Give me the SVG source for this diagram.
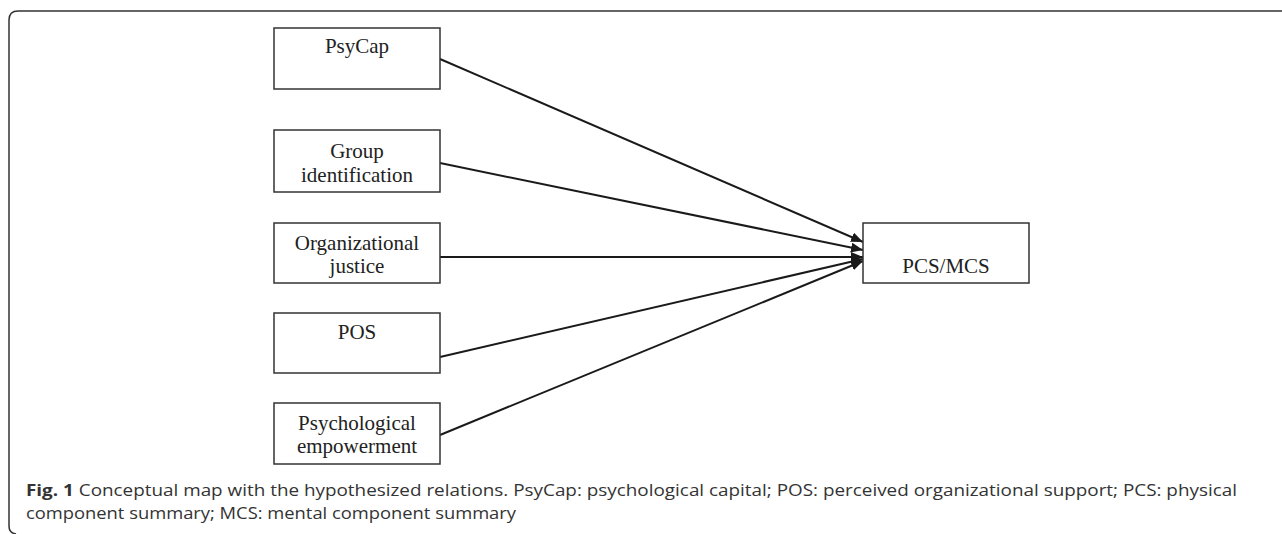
<svg xmlns="http://www.w3.org/2000/svg" width="1282" height="534" viewBox="0 0 1282 534">
<defs>
<marker id="arr" viewBox="0 0 12 10" refX="12" refY="5" markerWidth="12" markerHeight="10" markerUnits="userSpaceOnUse" orient="auto">
<path d="M0,0 L12,5 L0,10 Z" fill="#1a1a1a"/>
</marker>
<style>
.box{fill:#fff;stroke:#333;stroke-width:1.5}
.lbl{font-family:"Liberation Serif","Times New Roman",serif;font-size:21px;fill:#222;text-anchor:middle}
.conn{stroke:#1a1a1a;stroke-width:2;fill:none;marker-end:url(#arr)}
.cap{font-family:"Open Sans","Liberation Sans",sans-serif;font-size:16.5px;fill:#333}
</style>
</defs>
<rect width="1282" height="534" fill="#fff"/>
<path d="M1282 11 H18 Q9 11 9 20 V526 Q9 533 16 534" fill="none" stroke="#333" stroke-width="1.5"/>
<g id="connectors">
<line class="conn" x1="440" y1="59" x2="863" y2="242"/>
<line class="conn" x1="440" y1="163" x2="863" y2="250"/>
<line class="conn" x1="440" y1="257" x2="863" y2="257"/>
<line class="conn" x1="440" y1="357" x2="863" y2="259"/>
<line class="conn" x1="440" y1="435" x2="863" y2="261"/>
</g>
<g id="psycap">
<rect class="box" x="274" y="28" width="166" height="61"/>
<text class="lbl" x="357" y="53">PsyCap</text>
</g>
<g id="group-identification">
<rect class="box" x="274" y="130" width="166" height="62"/>
<text class="lbl" x="357" y="158">Group</text>
<text class="lbl" x="357" y="182">identification</text>
</g>
<g id="organizational-justice">
<rect class="box" x="274" y="223" width="166" height="60"/>
<text class="lbl" x="357" y="250">Organizational</text>
<text class="lbl" x="357" y="273">justice</text>
</g>
<g id="pos">
<rect class="box" x="274" y="313" width="166" height="60"/>
<text class="lbl" x="357" y="339">POS</text>
</g>
<g id="psychological-empowerment">
<rect class="box" x="274" y="403" width="166" height="61"/>
<text class="lbl" x="357" y="430">Psychological</text>
<text class="lbl" x="357" y="453">empowerment</text>
</g>
<g id="pcs-mcs">
<rect class="box" x="863" y="223" width="166" height="60"/>
<text class="lbl" x="946" y="273">PCS/MCS</text>
</g>
<g id="caption">
<text class="cap" x="26" y="496" textLength="1211" lengthAdjust="spacingAndGlyphs"><tspan font-weight="bold">Fig. 1</tspan> Conceptual map with the hypothesized relations. PsyCap: psychological capital; POS: perceived organizational support; PCS: physical</text>
<text class="cap" x="26" y="519" textLength="490" lengthAdjust="spacingAndGlyphs">component summary; MCS: mental component summary</text>
</g>
</svg>
